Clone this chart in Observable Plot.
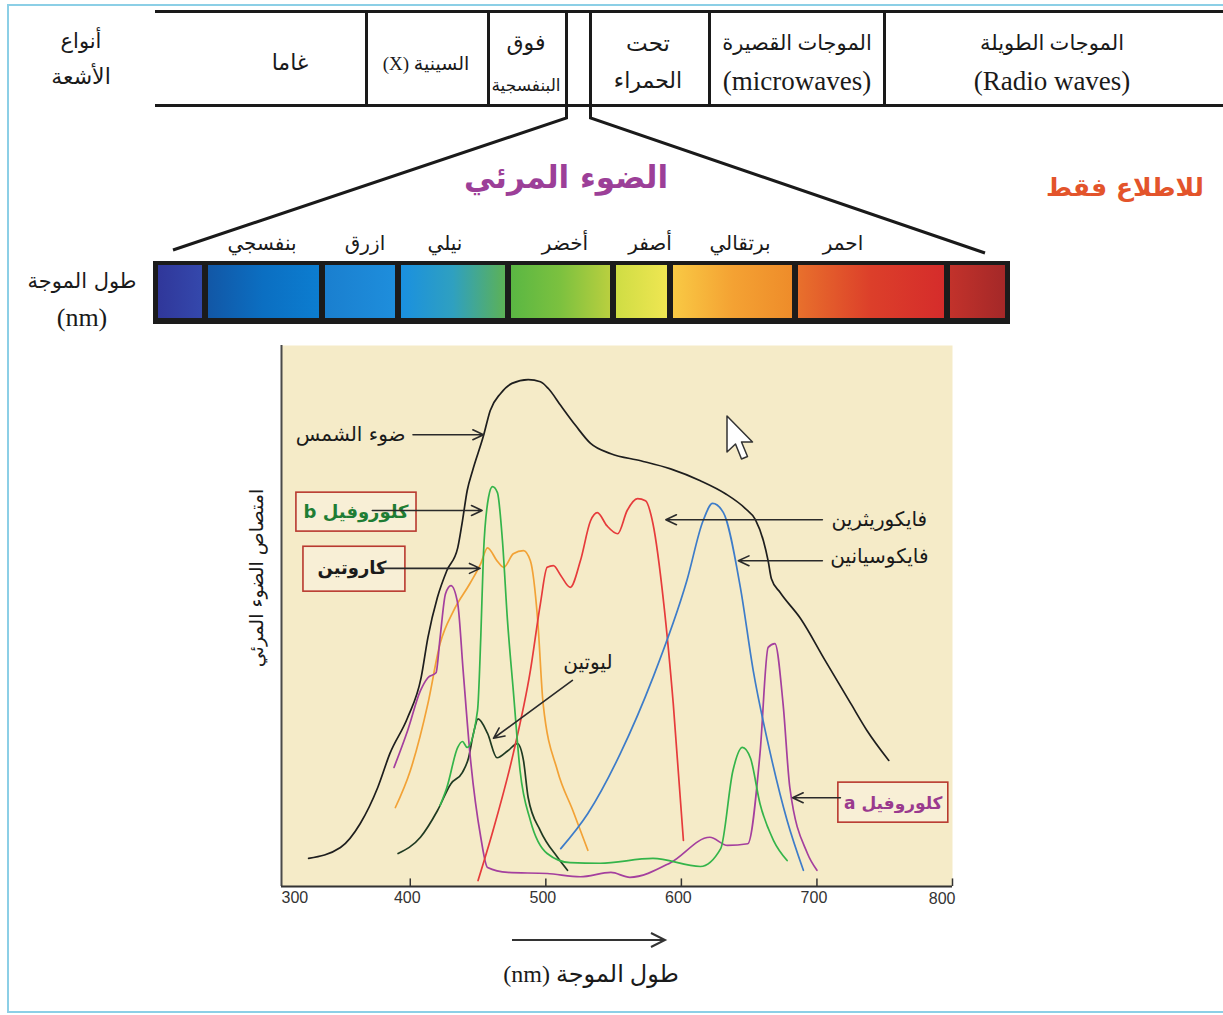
<!DOCTYPE html>
<html><head><meta charset="utf-8">
<script src="https://cdn.jsdelivr.net/npm/d3@7"></script>
<script src="https://cdn.jsdelivr.net/npm/@observablehq/plot@0.6"></script>
<style>
html,body{margin:0;padding:0;background:#fff;}
#page{position:relative;width:1223px;height:1015px;overflow:hidden;background:#fff;font-family:"DejaVu Sans",sans-serif;}
.lbl{position:absolute;transform:translate(-50%,-50%);white-space:nowrap;line-height:1;color:#1a1a1a;}
.rtl{direction:rtl;}
#chart{position:absolute;left:231px;top:330px;}
#overlay{position:absolute;left:0;top:0;pointer-events:none;}
</style></head><body><div id="page"></div>
<script>
// ---------------- data ----------------
const rowTitle = ["أنواع", "الأشعة"];
const radiationTypes = [["غاما"], ["السينية (X)"], ["فوق", "البنفسجية"], ["تحت", "الحمراء"], ["الموجات القصيرة", "(microwaves)"], ["الموجات الطويلة", "(Radio waves)"]];
const visibleTitle = "الضوء المرئي";
const noteText = "للاطلاع فقط";
const colourNames = ["بنفسجي", "ازرق", "نيلي", "أخضر", "أصفر", "برتقالي", "احمر"];
const wavelengthLabel = ["طول الموجة", "(nm)"];
const yTitle = "امتصاص الضوء المرئي";
const xTitle = "طول الموجة (nm)";
const xTicks = [300, 400, 500, 600, 700, 800];

// absorption curves: [wavelength nm, relative absorption]
const sunlight = [[325,5.2],[348.5,7.2],[363,11.6],[376,18.3],[385,24.6],[398,31.2],[408,38.6],[413,46],[420,53.4],[427,58.4],[435,62.6],[438.5,67.6],[442,73.2],[446,76.9],[454,83.3],[459,88],[466.5,91.1],[475,93],[487,93.7],[496,93.3],[502,92],[511,88.9],[522,85.2],[533,81.9],[548,80],[570,78.7],[592,77.2],[614,75],[632.5,72.6],[647,69.9],[654.6,67.8],[660.5,63.9],[664,60.2],[666.4,56.9],[673,54.3],[688,49.5],[706,41.8],[725,33.8],[737,28.8],[753,23.3]];
const chlorophyllB = [[422,15],[427,18.3],[435,25.7],[438.5,26.8],[442,25.7],[449.6,32.5],[452,46],[454,61.5],[457.7,71.9],[460.6,73.9],[464.3,72.8],[468,63.9],[471.7,49.2],[476,36.2],[481,21.4],[488.6,12.2],[501,6.1],[518,4.4],[540,4.3],[579,5.2],[614,3.7],[629,7],[638,21.4],[645,25.7],[651,23.7],[658,15.3],[668,8.5],[678,4.8]];
const carotene = [[389,14.6],[400,21.4],[413,33.8],[422,44.9],[432,51],[444,56],[452,59.7],[457,62.6],[464,60.2],[469,59],[476,61.5],[483.5,62.1],[488.6,60.2],[494,49.2],[498,33.8],[508.6,21.4],[520,14],[531,6.7]];
const chlorophyllA = [[388,22],[398,28.8],[407.5,36.2],[413,38.6],[419,39.5],[422,46],[426,54.1],[430,55.6],[435,52.3],[439,39.9],[444,24.6],[452,9.1],[457,3.5],[472,2.6],[501,2.4],[525.5,1.8],[548,2.6],[562,1.7],[592,4.4],[621,9.1],[634,7.6],[649,7.9],[658,24.6],[664,44.2],[669,44.9],[675,33.8],[680,18.3],[693,6.1],[700,3]];
const phycoerythrin = [[450,1.1],[461,10.3],[476,24.6],[488.6,39.9],[496,52.3],[501,59],[505.6,59.3],[511,57.5],[518,55.3],[525.5,60.2],[533,67.6],[538,69.1],[545,66.7],[553,65.2],[560,69.5],[567.6,71.7],[573.5,71.3],[579,67.1],[587,52.3],[594,33.8],[601.5,8.5]];
const phycocyanin = [[511,7],[531,13.5],[555,24.6],[579,38.6],[604,56.5],[616,67.6],[623,70.8],[631,69.1],[643.5,55.3],[653,39.9],[665.6,24.6],[678,12.2],[690,3]];
const lutein = [[391,6.1],[407.5,9.1],[420,14],[430,19],[438.5,21.1],[443,23.8],[446.6,28.3],[450,31],[457,28.3],[464,23.8],[472,25.1],[479,26.4],[483.5,23.3],[487,16.4],[496,10.3],[508.6,5.4],[516,3]];

// pigment labels with their pointer arrows (data coordinates)
const pigmentLabels = [
  {text:"ضوء الشمس", x:356, y:83.5, from:[402,83.5], to:[454,83.5], kind:"plain"},
  {text:"كلوروفيل b", x:360, y:69.2, from:[372,69.5], to:[453,69.5], kind:"boxB", box:[316,404.6,65.6,72.8]},
  {text:"كاروتين", x:357, y:58.8, from:[377,58.8], to:[451.5,58.8], kind:"boxC", box:[321.2,396.4,54.5,62.8]},
  {text:"ليوتين", x:531, y:41.4, from:[519.6,38.1], to:[461.4,27.4], kind:"plain"},
  {text:"فايكوريثرين", x:746, y:67.8, from:[704,67.8], to:[588.5,67.8], kind:"plain"},
  {text:"فايكوسيانين", x:746, y:61.0, from:[704,60.2], to:[642,60.2], kind:"plain"},
  {text:"كلوروفيل a", x:756.3, y:15.4, from:[717.3,16.4], to:[682,16.4], kind:"boxA", box:[715.8,796.9,11.8,19.2]}
];

// ---------------- styles / layout ----------------
const series = [
  {data:sunlight, color:"#1e1e1e"},
  {data:lutein, color:"#1f3a22"},
  {data:carotene, color:"#f2a236"},
  {data:chlorophyllA, color:"#a43f9e"},
  {data:phycoerythrin, color:"#e63b3b"},
  {data:phycocyanin, color:"#3d7cc9"},
  {data:chlorophyllB, color:"#34b44a"}
];
const labelStyle = {
  plain:{fill:"#1a1a1a", weight:"normal", size:20},
  boxB:{fill:"#1f7d34", weight:"bold", size:18},
  boxC:{fill:"#1a1a1a", weight:"bold", size:18},
  boxA:{fill:"#9a3a8e", weight:"bold", size:17}
};
const cellCenters = [290, 426, 526, 648, 797, 1052];
const colourX = [262, 365, 445, 565, 650, 740, 843];
const bandStops = [153,205,322,398,508,613,670,795,947,1010];
const bandGradients = [
  ["#30379a","#3448ac"],
  ["#1257a6","#0b6fc2","#0c7dd0"],
  ["#1a7fcf","#1e8edc"],
  ["#1a90e0","#2fa0c0","#5cb157"],
  ["#5ab743","#7cc13f","#b9cf3f"],
  ["#cfdd44","#efe652"],
  ["#f9c944","#f4a233","#ee8c2a"],
  ["#e8702c","#dc3f2a","#d52c2b"],
  ["#c2322b","#a42828"]
];

// ---------------- build page ----------------
const page = document.getElementById("page");
function label(text, cx, cy, css, rtl) {
  const d = document.createElement("div");
  d.className = "lbl" + (rtl ? " rtl" : "");
  d.textContent = text;
  d.style.left = cx + "px"; d.style.top = cy + "px";
  Object.assign(d.style, css || {});
  page.appendChild(d);
  return d;
}

// spectrum bar
const bar = document.createElement("div");
Object.assign(bar.style, {position:"absolute", left:bandStops[0]+"px", top:"261px", width:(bandStops[bandStops.length-1]-bandStops[0])+"px", height:"63px", background:"#1b1b1b"});
page.appendChild(bar);
bandGradients.forEach((g, i) => {
  const s = document.createElement("div");
  const l = bandStops[i] - bandStops[0] + (i === 0 ? 5 : 3);
  const r = bandStops[i+1] - bandStops[0] - (i === bandGradients.length-1 ? 5 : 3);
  Object.assign(s.style, {position:"absolute", left:l+"px", width:(r-l)+"px", top:"4px", bottom:"6px", background:`linear-gradient(to right, ${g.join(",")})`});
  bar.appendChild(s);
});

// texts: table
const serif = '"Liberation Serif","DejaVu Sans",serif';
label(rowTitle[0], 81, 41, {fontSize:"21px"});
label(rowTitle[1], 81, 77, {fontSize:"22px"});
const cellFonts = [
  [{fontSize:"22px"}],
  [{fontSize:"19px"}],
  [{fontSize:"22px"}, {fontSize:"17px", letterSpacing:"-0.6px"}],
  [{fontSize:"23px"}, {fontSize:"22px"}],
  [{fontSize:"21px"}, {fontSize:"27px"}],
  [{fontSize:"21px"}, {fontSize:"27px"}]
];
radiationTypes.forEach((lines, i) => {
  const cx = cellCenters[i];
  if (lines.length === 1) {
    label(lines[0], cx, 63, Object.assign({fontFamily:serif}, cellFonts[i][0]), true);
  } else {
    label(lines[0], cx, 43, Object.assign({fontFamily:serif}, cellFonts[i][0]), true);
    label(lines[1], cx, i === 2 ? 85 : 81, Object.assign({fontFamily:serif}, cellFonts[i][1]), true);
  }
});
label(visibleTitle, 566, 177, {fontSize:"31px", fontWeight:"bold", color:"#9c3f98"});
label(noteText, 1125, 187, {fontSize:"25px", fontWeight:"bold", color:"#e3542b"});
colourNames.forEach((n, i) => label(n, colourX[i], 243, {fontSize:"20px"}));
label(wavelengthLabel[0], 82, 281, {fontSize:"21px"});
label(wavelengthLabel[1], 82, 318, {fontSize:"26px", fontFamily:serif});
label(yTitle, 256, 578, {fontSize:"19px", transform:"translate(-50%,-50%) rotate(-90deg)"});
label(xTitle, 591, 974, {fontSize:"24px", fontFamily:serif}, true);

// ---------------- chart ----------------
const W = 760, H = 600;
const xDomain = [305, 800];
const tickFont = {fontSize:16, fill:"#333", fontFamily:"Liberation Sans"};
const marks = [
  Plot.frame({fill:"#f5ebc8", stroke:null}),
  ...series.map(s => Plot.line(s.data, {x:d=>d[0], y:d=>d[1], stroke:s.color, strokeWidth:1.7, curve:"monotone-x"})),
  Plot.ruleX([xDomain[0]], {stroke:"#4a4a4a", strokeWidth:2}),
  Plot.ruleY([0], {stroke:"#333", strokeWidth:2}),
  Plot.ruleX(xTicks.filter(v => v > xDomain[0]), {y1:0, y2:1.4, stroke:"#333", strokeWidth:1.5}),
  Plot.text(xTicks.filter(v => v <= xDomain[0]), {x:()=>xDomain[0], frameAnchor:"bottom", dy:16, text:d=>String(d), textAnchor:"start", ...tickFont}),
  Plot.text(xTicks.filter(v => v > xDomain[0] && v < xDomain[1]), {x:d=>d, frameAnchor:"bottom", dy:16, dx:-3, text:d=>String(d), ...tickFont}),
  Plot.text(xTicks.filter(v => v >= xDomain[1]), {x:d=>d, frameAnchor:"bottom", dy:17, dx:3, text:d=>String(d), textAnchor:"end", ...tickFont})
];
pigmentLabels.forEach(p => {
  const st = labelStyle[p.kind];
  if (p.box) marks.push(Plot.rect([p], {x1:d=>d.box[0], x2:d=>d.box[1], y1:d=>d.box[2], y2:d=>d.box[3], fill:"#f8efd6", stroke:"#b8392f", strokeWidth:1.6}));
  marks.push(Plot.text([p], {x:"x", y:"y", text:"text", fill:st.fill, fontWeight:st.weight, fontSize:st.size, fontFamily:"DejaVu Sans"}));
  marks.push(Plot.arrow([p], {x1:d=>d.from[0], y1:d=>d.from[1], x2:d=>d.to[0], y2:d=>d.to[1], stroke:"#2a2a2a", strokeWidth:1.6, headLength:11, headAngle:50}));
});
const chart = Plot.plot({
  width: W, height: H,
  marginLeft: 50, marginTop: 15, marginRight: 39, marginBottom: 44,
  x: {domain: xDomain, axis: null},
  y: {domain: [0, 100], axis: null},
  style: {background: "transparent", overflow: "visible"},
  marks
});
chart.id = "chart";
chart.querySelectorAll("text").forEach(t => {
  const s = t.textContent;
  if (/[a-zA-Z]/.test(s) && /[\u0600-\u06FF]/.test(s)) t.setAttribute("direction", "rtl");
});
page.appendChild(chart);

// ---------------- decorative overlay (frame, table rules, zoom lines, cursor) ----------------
const ns = "http://www.w3.org/2000/svg";
const ov = document.createElementNS(ns, "svg");
ov.setAttribute("id", "overlay"); ov.setAttribute("width", 1223); ov.setAttribute("height", 1015);
function el(tag, attrs) { const e = document.createElementNS(ns, tag); for (const k in attrs) e.setAttribute(k, attrs[k]); ov.appendChild(e); return e; }
el("path", {d:"M1223,5 H8 V1012 H1223", fill:"none", stroke:"#8ccfe6", "stroke-width":2});
el("line", {x1:155, y1:11.5, x2:1223, y2:11.5, stroke:"#1a1a1a", "stroke-width":3});
el("line", {x1:155, y1:105.5, x2:1223, y2:105.5, stroke:"#1a1a1a", "stroke-width":3});
[366.5, 488.5, 709.5, 884.5].forEach(x => el("line", {x1:x, y1:11, x2:x, y2:106, stroke:"#1a1a1a", "stroke-width":3}));
el("polyline", {points:"566.5,11 566.5,118 173,250", fill:"none", stroke:"#1a1a1a", "stroke-width":3, "stroke-linejoin":"miter"});
el("polyline", {points:"590.5,11 590.5,118 985,253", fill:"none", stroke:"#1a1a1a", "stroke-width":3, "stroke-linejoin":"miter"});
el("line", {x1:512, y1:940, x2:664, y2:940, stroke:"#333", "stroke-width":2});
el("polyline", {points:"651,933 665,940 651,947", fill:"none", stroke:"#333", "stroke-width":2});
el("path", {d:"M727,416 L727,452 L735.5,444 L741.5,459 L747.5,456.5 L741.5,442 L752.5,442 Z", fill:"#fff", stroke:"#333", "stroke-width":1.5, "stroke-linejoin":"round"});
page.appendChild(ov);
</script>
</body></html>
